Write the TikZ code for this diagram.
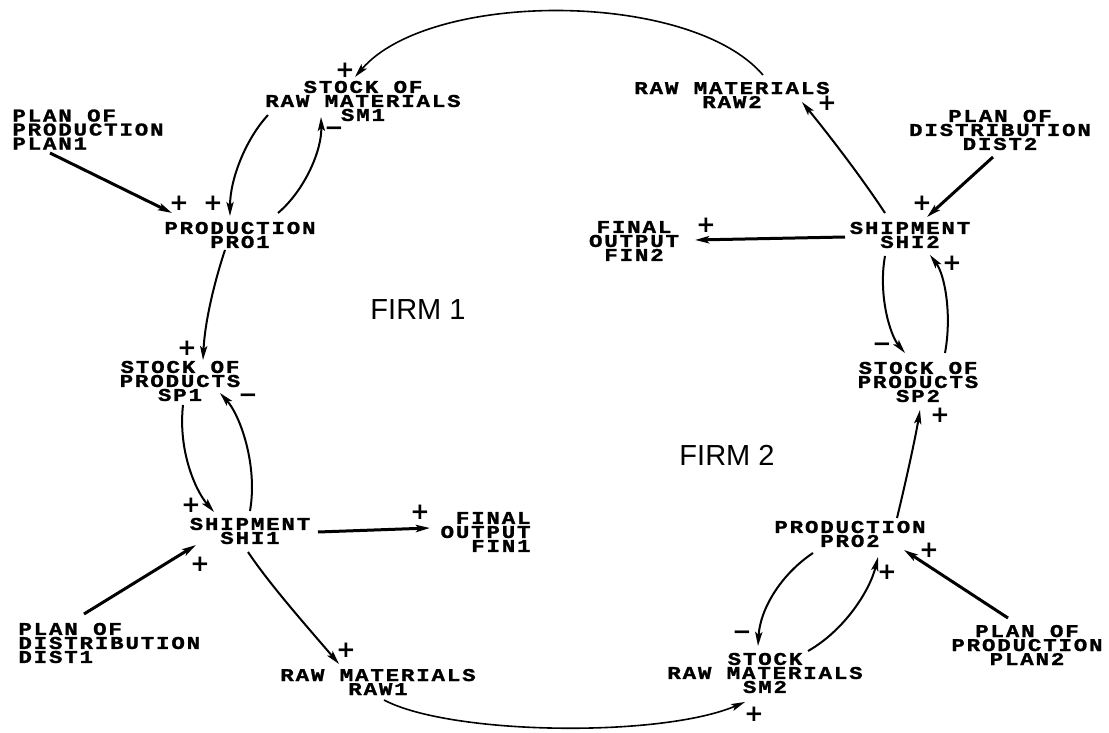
\documentclass[tikz,border=0pt]{standalone}
\usepackage{fontspec}
\newfontfamily\plotfont{Liberation Mono}[LetterSpace=10,FakeStretch=1.25,BoldFeatures={FakeBold=1.3}]
\newfontfamily\firmfont{Liberation Sans}
\newfontfamily\signfont{DejaVu Sans}
\usetikzlibrary{arrows.meta,calc}
\tikzset{
  lbl/.style={inner sep=0pt, align=center, font=\plotfont\bfseries\fontsize{9}{7}\selectfont},
  lblL/.style={lbl, align=left},
  lblR/.style={lbl, align=right},
  sgn/.style={inner sep=0pt, font=\signfont\bfseries\fontsize{11.5}{11.5}\selectfont},
  firm/.style={inner sep=0pt, font=\firmfont\fontsize{14.5}{15}\selectfont},
  link/.style={line width=1pt, -{Stealth[length=7pt,width=3.6pt,inset=1.5pt]}},
  heavylink/.style={link, line width=1.5pt},
  looplink/.style={link, line width=0.8pt},
}
\begin{document}
\begin{tikzpicture}[x=0.5pt,y=-0.5pt]
\useasboundingbox (0,0) rectangle (1109,733);
\fill[white] (0,0) rectangle (1109,733);

% ---------- variable nodes ----------
\node[lbl] (sm1) at (363,101) {STOCK OF\\RAW MATERIALS\\SM1};
\node[lblL, anchor=west] (plan1) at (12,129.5) {PLAN OF\\PRODUCTION\\PLAN1};
\node[lbl] (pro1) at (240,235) {PRODUCTION\\PRO1};
\node[lbl] (sp1) at (180,381) {STOCK OF\\PRODUCTS\\SP1};
\node[lbl] (shi1) at (250,531) {SHIPMENT\\SHI1};
\node[lblR, anchor=east] (fin1) at (531,532) {FINAL\\OUTPUT\\FIN1};
\node[lblL, anchor=west] (dist1) at (18,643) {PLAN OF\\DISTRIBUTION\\DIST1};
\node[lbl] (raw1) at (378,682) {RAW MATERIALS\\RAW1};
\node[lbl] (sm2) at (765,673) {STOCK\\RAW MATERIALS\\SM2};
\node[lbl] (pro2) at (850,534) {PRODUCTION\\PRO2};
\node[lbl] (plan2) at (1027,645) {PLAN OF\\PRODUCTION\\PLAN2};
\node[lbl] (sp2) at (918,382) {STOCK OF\\PRODUCTS\\SP2};
\node[lbl] (shi2) at (910,235) {SHIPMENT\\SHI2};
\node[lbl] (fin2) at (634,241) {FINAL\\OUTPUT\\FIN2};
\node[lbl] (raw2) at (732,95) {RAW MATERIALS\\RAW2};
\node[lbl] (dist2) at (1000,130) {PLAN OF\\DISTRIBUTION\\DIST2};

\node[firm] (firm1) at (418,310) {FIRM 1};
\node[firm] (firm2) at (727,455) {FIRM 2};

% ---------- polarity signs ----------
\node[sgn] (sA) at (345,70) {+};
\node[sgn] (sB) at (334,131) {−};
\node[sgn] (sC) at (179,203) {+};
\node[sgn] (sD) at (213,203) {+};
\node[sgn] (sE) at (187,348) {+};
\node[sgn] (sF) at (248,398) {−};
\node[sgn] (sG) at (191,505) {+};
\node[sgn] (sH) at (200,564) {+};
\node[sgn] (sI) at (420,512) {+};
\node[sgn] (sJ) at (346,650) {+};
\node[sgn] (sK) at (754,714) {+};
\node[sgn] (sL) at (742,635) {−};
\node[sgn] (sM) at (887,572) {+};
\node[sgn] (sN) at (929,550) {+};
\node[sgn] (sO) at (940,415) {+};
\node[sgn] (sP) at (952,263) {+};
\node[sgn] (sQ) at (922,203) {+};
\node[sgn] (sR) at (882,347) {−};
\node[sgn] (sS) at (706,225) {+};
\node[sgn] (sT) at (827,103) {+};

% ---------- connectors ----------
% big arc RAW2 -> SM1
\draw[looplink] ($(raw2.center)+(31,-20)$) .. controls +(-73,-85) and +(75,-87) .. ($(sm1.center)+(-8,-24)$);
% SM1 -> PRO1
\draw[link] ($(sm1.center)+(-95,14)$) .. controls +(-23,25) and +(0,-36) .. ($(pro1.center)+(-10,-19)$);
% PRO1 -> SM1
\draw[link] ($(pro1.center)+(38,-22)$) .. controls +(27,-23) and +(1,33) .. ($(sm1.center)+(-42,16)$);
% PLAN1 -> PRO1
\draw[heavylink] ($(plan1.west)+(38,23.5)$) -- ($(pro1.center)+(-68,-22)$);
% PRO1 -> SP1
\draw[link] ($(pro1.center)+(-15,15)$) .. controls +(-10,30) and +(2,-40) .. ($(sp1.center)+(23,-21)$);
% SP1 -> SHI1
\draw[link] ($(sp1.center)+(3,24)$) .. controls +(-5,45) and +(-19,-22) .. ($(shi1.center)+(-36,-19)$);
% SHI1 -> SP1
\draw[link] ($(shi1.center)+(0,-20)$) .. controls +(8,-46) and +(20,22) .. ($(sp1.center)+(40,12)$);
% DIST1 -> SHI1
\draw[heavylink] ($(dist1.west)+(66,-29)$) -- ($(shi1.center)+(-54,14)$);
% SHI1 -> FIN1
\draw[heavylink] ($(shi1.center)+(68,1)$) -- ($(fin1.east)+(-101,-4)$);
% SHI1 -> RAW1
\draw[link] ($(shi1.center)+(-2,21)$) .. controls +(22,33) and +(-29,-34) .. ($(raw1.center)+(-39,-18)$);
% RAW1 -> SM2 (bottom arc)
\draw[looplink] ($(raw1.center)+(6,18)$) .. controls +(66,35) and +(-85,36) .. ($(sm2.center)+(-20,29)$);
% PRO2 -> SM2
\draw[link] ($(pro2.center)+(-37,19)$) .. controls +(-33,22) and +(2,-36) .. ($(sm2.center)+(-7,-27)$);
% SM2 -> PRO2
\draw[link] ($(sm2.center)+(43,-22)$) .. controls +(37,-21) and +(-8,33) .. ($(pro2.center)+(28,23)$);
% PLAN2 -> PRO2
\draw[heavylink] ($(plan2.center)+(-19,-27)$) -- ($(pro2.center)+(54,16)$);
% PRO2 -> SP2
\draw[link] ($(pro2.center)+(47,-16)$) .. controls +(8,-33) and +(-5,30) .. ($(sp2.center)+(2,28)$);
% SHI2 -> SP2
\draw[link] ($(shi2.center)+(-25,21)$) .. controls +(-7,39) and +(-15,-18) .. ($(sp2.center)+(-13,-29)$);
% SP2 -> SHI2
\draw[link] ($(sp2.center)+(27,-29)$) .. controls +(7,-38) and +(15,20) .. ($(shi2.center)+(20,20)$);
% DIST2 -> SHI2
\draw[heavylink] ($(dist2.center)+(-7,27)$) -- ($(shi2.center)+(17,-18)$);
% SHI2 -> FIN2
\draw[heavylink] ($(shi2.center)+(-65,2)$) -- ($(fin2.center)+(61,-1)$);
% SHI2 -> RAW2
\draw[link] ($(shi2.center)+(-25,-22)$) .. controls +(-25,-38) and +(23,28) .. ($(raw2.center)+(70,7)$);
\end{tikzpicture}
\end{document}
